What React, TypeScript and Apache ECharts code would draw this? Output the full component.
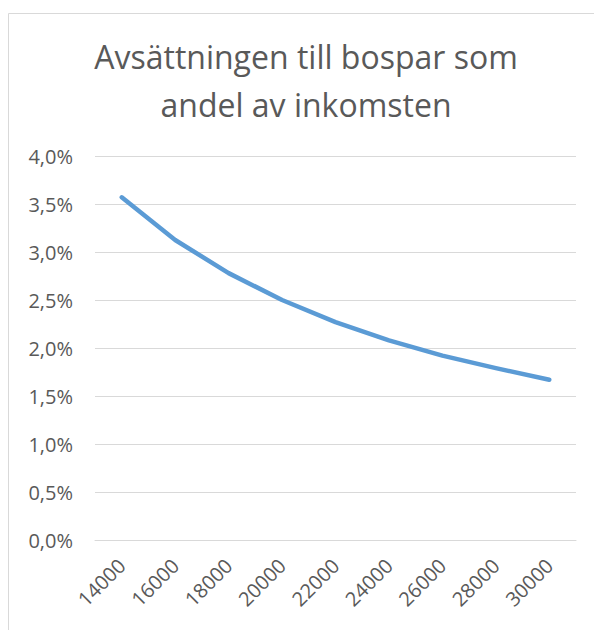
import React, { useEffect, useRef } from "react";
import * as echarts from "echarts";

const categories = ["14000", "16000", "18000", "20000", "22000", "24000", "26000", "28000", "30000"];
const shareValues = [3.57, 3.125, 2.78, 2.5, 2.27, 2.08, 1.92, 1.79, 1.67];
const titleText = "Avsättningen till bospar som\nandel av inkomsten";

const FONT = "'Open Sans', 'Noto Sans', sans-serif";
const TEXT_COLOR = "#595959";

export default function App() {
  const ref = useRef<HTMLDivElement>(null);
  useEffect(() => {
    document.body.style.margin = "0";
    const chart = echarts.init(ref.current!, null, { renderer: "svg" });
    chart.setOption({
      animation: false,
      backgroundColor: "#ffffff",
      title: {
        text: titleText,
        left: 306,
        textAlign: "center",
        top: 32,
        padding: 0,
        textStyle: {
          fontFamily: FONT,
          fontSize: 32,
          fontWeight: "normal",
          color: TEXT_COLOR,
          lineHeight: 48,
        },
      },
      graphic: [
        {
          type: "rect",
          shape: { x: 8.5, y: 13.5, width: 620, height: 660 },
          style: { fill: "none", stroke: "#d9d9d9", lineWidth: 1 },
          silent: true,
        },
      ],
      grid: { left: 95, right: 18, top: 156, bottom: 90, containLabel: false },
      xAxis: {
        type: "category",
        data: categories,
        boundaryGap: true,
        axisLine: { show: true, lineStyle: { color: "#d9d9d9", width: 1 } },
        axisTick: { show: false },
        axisLabel: {
          rotate: 45,
          margin: 22,
          fontFamily: FONT,
          fontSize: 20,
          color: TEXT_COLOR,
          interval: 0,
        },
      },
      yAxis: {
        type: "value",
        min: 0,
        max: 4,
        interval: 0.5,
        axisLine: { show: false },
        axisTick: { show: false },
        splitLine: { show: true, lineStyle: { color: "#d9d9d9", width: 1 } },
        axisLabel: {
          margin: 22,
          fontFamily: FONT,
          fontSize: 20,
          color: TEXT_COLOR,
          formatter: (v: number) => v.toFixed(1).replace(".", ",") + "%",
        },
      },
      series: [
        {
          type: "line",
          data: shareValues,
          showSymbol: false,
          symbol: "none",
          smooth: false,
          lineStyle: { color: "#5b9bd5", width: 4.5, cap: "round", join: "round" },
        },
      ],
    });
    return () => chart.dispose();
  }, []);
  return <div ref={ref} style={{ width: 594, height: 630 }} />;
}
